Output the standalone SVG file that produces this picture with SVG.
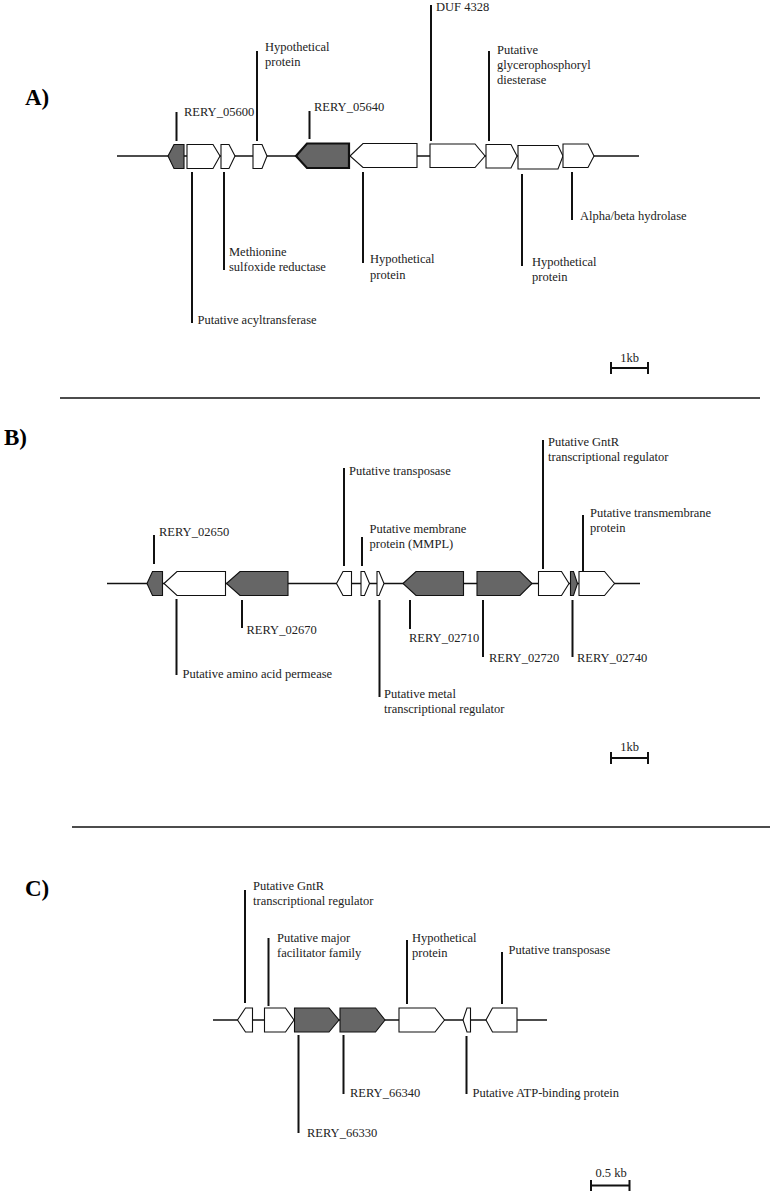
<svg xmlns="http://www.w3.org/2000/svg" width="772" height="1194" viewBox="0 0 772 1194">
<style>
text{font-family:"Liberation Serif","Times New Roman",serif;font-size:12.5px;fill:#222}
.pl{font-size:23px;font-weight:bold;fill:#000}
.bb{stroke:#111;stroke-width:1.3;fill:none}
.g{stroke:#111;stroke-width:1.1;stroke-linejoin:miter}
.w{fill:#fff}
.d{fill:#666}
.ld{stroke:#111;stroke-width:2;fill:none}
.sc{stroke:#111;stroke-width:2;fill:none}
.dv{stroke:#111;stroke-width:1.6}
</style>
<rect width="772" height="1194" fill="#fff"/>

<!-- Panel A -->
<text class="pl" x="25" y="105">A)</text>
<g id="connectors-A">
<line class="bb" x1="117" y1="156" x2="639" y2="156"/>
<line class="ld" x1="176.5" y1="112" x2="176.5" y2="141"/>
<line class="ld" x1="257" y1="51" x2="257" y2="141"/>
<line class="ld" x1="309.5" y1="111" x2="309.5" y2="139"/>
<line class="ld" x1="431" y1="5" x2="431" y2="141"/>
<line class="ld" x1="489" y1="51" x2="489" y2="141"/>
<line class="ld" x1="192" y1="172" x2="192" y2="323"/>
<line class="ld" x1="224" y1="172" x2="224" y2="270"/>
<line class="ld" x1="363" y1="172" x2="363" y2="263"/>
<line class="ld" x1="522" y1="174" x2="522" y2="266"/>
<line class="ld" x1="572" y1="172" x2="572" y2="220"/>
</g>
<g id="A-g1"><polygon class="g d" points="168,156 174,144.5 184,144.5 184,168.5 174,168.5"/></g>
<g id="A-g2"><polygon class="g w" points="187,144.5 213,144.5 220,156 213,168.5 187,168.5"/></g>
<g id="A-g3"><polygon class="g w" points="221,144.5 229,144.5 235,156 229,168.5 221,168.5"/></g>
<g id="A-g4"><polygon class="g w" points="253,144.5 262,144.5 267,156 262,168.5 253,168.5"/></g>
<g id="A-g5"><polygon class="g d" style="stroke-width:2.2" points="296,156 307,143.5 349,143.5 349,168 307,168"/></g>
<g id="A-g6"><polygon class="g w" points="350,156 363,143.5 417,143.5 417,167.5 363,167.5"/></g>
<g id="A-g7"><polygon class="g w" points="430,144 475,144 485,156 475,167.5 430,167.5"/></g>
<g id="A-g8"><polygon class="g w" points="486,144.5 511,144.5 517,156 511,168 486,168"/></g>
<g id="A-g9"><polygon class="g w" points="518,145.5 558,145.5 563,156 558,169 518,169"/></g>
<g id="A-g10"><polygon class="g w" points="563,144 588,144 594,156 588,167.5 563,167.5"/></g>
<g id="A-labels">
<text x="184" y="115.5">RERY_05600</text>
<text x="265" y="51">Hypothetical</text>
<text x="265" y="66">protein</text>
<text x="314" y="111">RERY_05640</text>
<text x="436" y="11">DUF 4328</text>
<text x="497" y="54">Putative</text>
<text x="497" y="69">glycerophosphoryl</text>
<text x="497" y="84">diesterase</text>
<text x="197.5" y="324">Putative acyltransferase</text>
<text x="229" y="256">Methionine</text>
<text x="229" y="271">sulfoxide reductase</text>
<text x="370" y="263">Hypothetical</text>
<text x="370" y="279">protein</text>
<text x="532" y="266">Hypothetical</text>
<text x="532" y="281">protein</text>
<text x="580" y="220">Alpha/beta hydrolase</text>
</g>
<g id="A-scale">
<path class="sc" d="M611,362V374M611,368H648M648,362V374"/>
<text x="629.5" y="362" text-anchor="middle">1kb</text>
</g>
<line class="dv" x1="60" y1="398" x2="760" y2="398"/>

<!-- Panel B -->
<text class="pl" x="4" y="445">B)</text>
<g id="connectors-B">
<line class="bb" x1="107" y1="583.5" x2="640" y2="583.5"/>
<line class="ld" x1="154" y1="535" x2="154" y2="564"/>
<line class="ld" x1="344" y1="468" x2="344" y2="566"/>
<line class="ld" x1="362" y1="537" x2="362" y2="566"/>
<line class="ld" x1="543" y1="440" x2="543" y2="569"/>
<line class="ld" x1="583" y1="515" x2="583" y2="571"/>
<line class="ld" x1="176.5" y1="599" x2="176.5" y2="675"/>
<line class="ld" x1="242" y1="600" x2="242" y2="628"/>
<line class="ld" x1="379.5" y1="600" x2="379.5" y2="697"/>
<line class="ld" x1="410" y1="600" x2="410" y2="629"/>
<line class="ld" x1="483" y1="600" x2="483" y2="657"/>
<line class="ld" x1="572.5" y1="600" x2="572.5" y2="657"/>
</g>
<g id="B-g1"><polygon class="g d" points="147,583.5 152.5,571.5 162.5,571.5 162.5,595.5 152.5,595.5"/></g>
<g id="B-g2"><polygon class="g w" points="164,583.5 177,571.5 225.5,571.5 225.5,595.5 177,595.5"/></g>
<g id="B-g3"><polygon class="g d" points="226.5,583.5 240,571.5 288,571.5 288,595.5 240,595.5"/></g>
<g id="B-g4"><polygon class="g w" points="336.5,583.5 343,571.5 351.5,571.5 351.5,595.5 343,595.5"/></g>
<g id="B-g5"><polygon class="g w" points="361,571.5 364.5,571.5 369.5,583.5 364.5,595.5 361,595.5"/></g>
<g id="B-g6"><polygon class="g w" points="377,571.5 379,571.5 384,583.5 379,595.5 377,595.5"/></g>
<g id="B-g7"><polygon class="g d" points="403,583.5 416,571.5 463.5,571.5 463.5,595.5 416,595.5"/></g>
<g id="B-g8"><polygon class="g d" points="477,571.5 520,571.5 532,583.5 520,595.5 477,595.5"/></g>
<g id="B-g9"><polygon class="g w" points="538.5,571.5 561.5,571.5 569,583.5 561.5,595.5 538.5,595.5"/></g>
<g id="B-g10"><polygon class="g d" points="570.5,571.5 573.5,571.5 577.5,583.5 573.5,595.5 570.5,595.5"/></g>
<g id="B-g11"><polygon class="g w" points="579,571.5 604.5,571.5 614.5,583.5 604.5,595.5 579,595.5"/></g>
<g id="B-labels">
<text x="159" y="536">RERY_02650</text>
<text x="349" y="475">Putative transposase</text>
<text x="369.5" y="533">Putative membrane</text>
<text x="369.5" y="548">protein (MMPL)</text>
<text x="548" y="446">Putative GntR</text>
<text x="548" y="461">transcriptional regulator</text>
<text x="590" y="516.5">Putative transmembrane</text>
<text x="590" y="531.5">protein</text>
<text x="182.5" y="678">Putative amino acid permease</text>
<text x="246.5" y="634">RERY_02670</text>
<text x="384" y="698">Putative metal</text>
<text x="384" y="713">transcriptional regulator</text>
<text x="409" y="642">RERY_02710</text>
<text x="489" y="662">RERY_02720</text>
<text x="577" y="662">RERY_02740</text>
</g>
<g id="B-scale">
<path class="sc" d="M611,752V764M611,758H648M648,752V764"/>
<text x="629.5" y="751" text-anchor="middle">1kb</text>
</g>
<line class="dv" x1="72" y1="827" x2="770" y2="827"/>

<!-- Panel C -->
<text class="pl" x="25" y="896">C)</text>
<g id="connectors-C">
<line class="bb" x1="213" y1="1020" x2="547" y2="1020"/>
<line class="ld" x1="245" y1="890" x2="245" y2="1003"/>
<line class="ld" x1="268.5" y1="938" x2="268.5" y2="1006"/>
<line class="ld" x1="407" y1="940" x2="407" y2="1004"/>
<line class="ld" x1="502" y1="952" x2="502" y2="1004"/>
<line class="ld" x1="298.5" y1="1035" x2="298.5" y2="1133"/>
<line class="ld" x1="343.5" y1="1035" x2="343.5" y2="1094"/>
<line class="ld" x1="466.5" y1="1036" x2="466.5" y2="1094"/>
</g>
<g id="C-g1"><polygon class="g w" points="237.5,1020 245.5,1008 252.5,1008 252.5,1032 245.5,1032"/></g>
<g id="C-g2"><polygon class="g w" points="264.5,1008 285.5,1008 294,1020 285.5,1032 264.5,1032"/></g>
<g id="C-g3"><polygon class="g d" points="294.5,1008 329,1008 339,1020 329,1032 294.5,1032"/></g>
<g id="C-g4"><polygon class="g d" points="340,1008 375.5,1008 385,1020 375.5,1032 340,1032"/></g>
<g id="C-g5"><polygon class="g w" points="399,1008 435,1008 444.5,1020 435,1032 399,1032"/></g>
<g id="C-g6"><polygon class="g w" points="463,1020 467,1008 470.5,1008 470.5,1032 467,1032"/></g>
<g id="C-g7"><polygon class="g w" points="486,1020 492.5,1008 517,1008 517,1032 492.5,1032"/></g>
<g id="C-labels">
<text x="253" y="890">Putative GntR</text>
<text x="253" y="905">transcriptional regulator</text>
<text x="277" y="942">Putative major</text>
<text x="277" y="957">facilitator family</text>
<text x="412" y="942">Hypothetical</text>
<text x="412" y="957">protein</text>
<text x="508.5" y="953.5">Putative transposase</text>
<text x="307" y="1137">RERY_66330</text>
<text x="350" y="1097">RERY_66340</text>
<text x="472.5" y="1097">Putative ATP-binding protein</text>
</g>
<g id="C-scale">
<path class="sc" d="M591,1180V1191M591,1185.5H629.5M629.5,1180V1191"/>
<text x="611" y="1177" text-anchor="middle">0.5 kb</text>
</g>
</svg>
